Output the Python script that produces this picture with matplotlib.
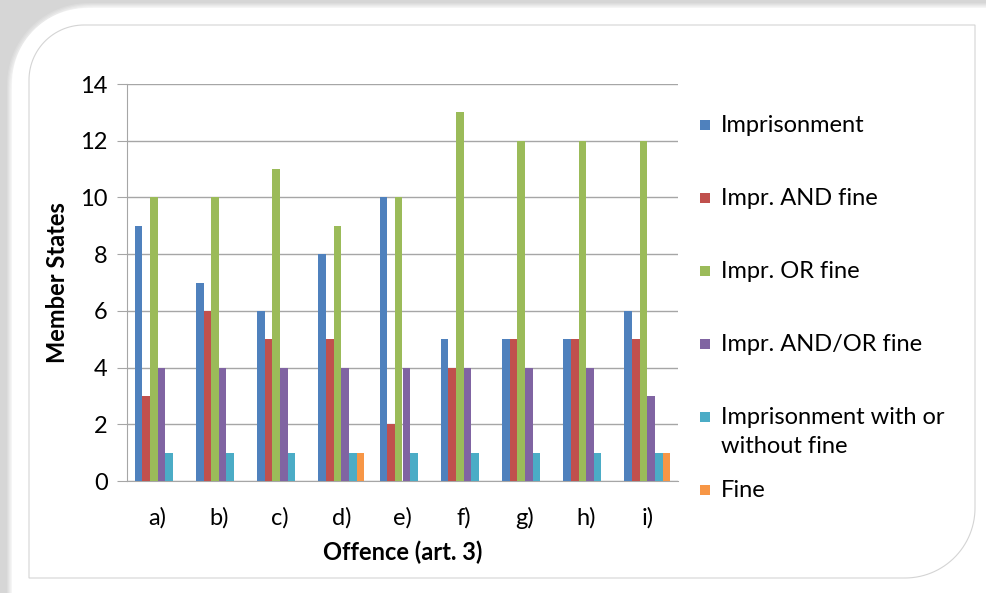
import numpy as np
import matplotlib
matplotlib.use("Agg")
import matplotlib.pyplot as plt
from matplotlib.path import Path
from matplotlib.patches import PathPatch, Rectangle

plt.rcParams['font.family'] = ['Lato', 'DejaVu Sans']

offences = ['a)', 'b)', 'c)', 'd)', 'e)', 'f)', 'g)', 'h)', 'i)']
imprisonment = [9, 7, 6, 8, 10, 5, 5, 5, 6]
impr_and_fine = [3, 6, 5, 5, 2, 4, 5, 5, 5]
impr_or_fine = [10, 10, 11, 9, 10, 13, 12, 12, 12]
impr_and_or_fine = [4, 4, 4, 4, 4, 4, 4, 4, 3]
impr_with_without_fine = [1, 1, 1, 1, 1, 1, 1, 1, 1]
fine = [0, 0, 0, 1, 0, 0, 0, 0, 1]

series_names = ['Imprisonment', 'Impr. AND fine', 'Impr. OR fine',
                'Impr. AND/OR fine', 'Imprisonment with or\nwithout fine', 'Fine']
series_values = [imprisonment, impr_and_fine, impr_or_fine,
                 impr_and_or_fine, impr_with_without_fine, fine]
colors = ['#4F81BD', '#C0504D', '#9BBB59', '#8064A2', '#4BACC6', '#F79646']

W, H = 987, 593
fig = plt.figure(figsize=(W / 100, H / 100), dpi=100)
fig.patch.set_facecolor('#d6d6d6')


def px(x, y):
    # pixel position (from top-left) -> figure fraction
    return x / W, 1 - y / H


def rounded_box(x0, y0, x1, y1, r_tl, r_br, n=30):
    # box with rounded top-left and bottom-right corners, in pixels
    pts = []
    t = np.linspace(np.pi, np.pi / 2, n)
    pts += [(x0 + r_tl + r_tl * np.cos(a), y0 + r_tl - r_tl * np.sin(a)) for a in t]
    pts += [(x1, y0)]
    t = np.linspace(0, -np.pi / 2, n)
    pts += [(x1 - r_br + r_br * np.cos(a), y1 - r_br - r_br * np.sin(a)) for a in t]
    pts += [(x0, y1)]
    pts.append(pts[0])
    return Path([px(x, y) for x, y in pts], closed=True)


def add_bg(path, **kw):
    p = PathPatch(path, transform=fig.transFigure, zorder=-5, **kw)
    fig.patches.append(p)


# background: grey shadow fading into a white card
for i, g in enumerate(np.linspace(0.84, 0.96, 6)):
    add_bg(rounded_box(6 + i, 2 + i, W + 30 - i, H + 30 - i, 82, 92), facecolor=str(g),
           edgecolor='none')
add_bg(rounded_box(12, 8, W + 30, H + 30, 75, 85), facecolor='white', edgecolor='none')
add_bg(rounded_box(29, 25, 975, 578, 55, 70), facecolor='white', edgecolor='#d4d4d4',
       linewidth=0.8)

ax = fig.add_axes([127 / W, 1 - 481 / H, 551 / W, 397 / H])
ax.set_facecolor('none')

x = np.arange(len(offences))
bar_w = 0.125
for i, (vals, c) in enumerate(zip(series_values, colors)):
    ax.bar(x + (i - 2.5) * bar_w, vals, width=bar_w, color=c, linewidth=0, zorder=3)

ax.set_xlim(-0.5, len(offences) - 0.5)
ax.set_ylim(0, 14)
ax.set_yticks(range(0, 15, 2))
ax.set_xticks(x)
ax.set_xticklabels(offences)
ax.grid(axis='y', color='#a6a6a6', linewidth=1.0, zorder=0)
ax.set_axisbelow(True)
for s in ['top', 'right']:
    ax.spines[s].set_visible(False)
ax.spines['left'].set_color('#a6a6a6')
ax.spines['bottom'].set_color('#a6a6a6')
ax.tick_params(axis='y', length=7, color='#a6a6a6', labelsize=17, pad=7)
ax.tick_params(axis='x', length=0, labelsize=17, pad=19)

ax.set_ylabel('Member States', fontsize=17, fontweight='bold', labelpad=8)
ax.set_xlabel('Offence (art. 3)', fontsize=17, fontweight='bold', labelpad=8)

# legend on the right
entry_y = 125
for name, c in zip(series_names, colors):
    fx, fy = px(700, entry_y + 5)
    fig.patches.append(Rectangle((fx, fy), 10 / W, 10 / H, transform=fig.transFigure,
                                 facecolor=c, edgecolor='none'))
    tx, ty = px(721, entry_y - 10)
    fig.text(tx, ty, name, fontsize=17, va='top', ha='left', linespacing=1.45)
    entry_y += 73

fig.savefig('out.png', dpi=100)
